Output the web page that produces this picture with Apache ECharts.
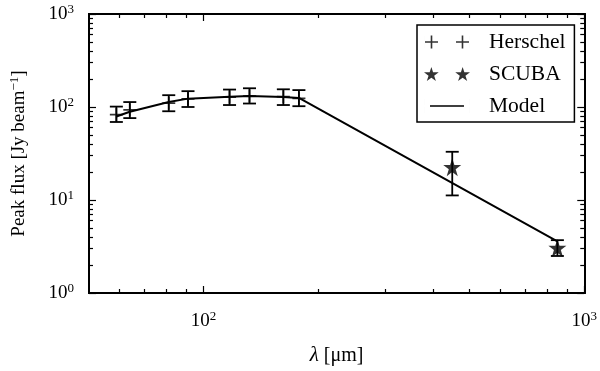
<!DOCTYPE html>
<html>
<head>
<meta charset="utf-8">
<script src="https://cdn.jsdelivr.net/npm/echarts@6/dist/echarts.min.js"></script>
<style>
  html, body { margin: 0; padding: 0; background: #fff; }
  #main { width: 600px; height: 371px; }
</style>
</head>
<body>
<div id="main"></div>
<script>
// Herschel points (wavelength in micron, peak flux in Jy/beam)
var herschelLambda = [59, 64, 81, 91, 117, 132, 162, 178];
var herschelFlux = [83, 93, 110, 122, 128, 131, 129, 124];
var herschelLow = [69, 76, 90, 100, 105, 109, 105, 102];
var herschelHigh = [101, 113, 134, 148, 154, 159, 155, 152];

// SCUBA points
var scubaLambda = [450, 850];
var scubaFlux = [22.5, 3.05];
var scubaLow = [11.2, 2.5];
var scubaHigh = [33, 3.7];

// model curve
var modelLambda = [59, 64, 81, 91, 117, 132, 162, 178, 850];
var modelFlux = [79, 89, 113, 123, 129, 131, 128, 125, 3.6];

// ticks
var xMajor = [100, 1000];
var xMinor = [60, 70, 80, 90, 200, 300, 400, 500, 600, 700, 800, 900];
var yMajor = [1, 10, 100, 1000];
var yMinor = [2, 3, 4, 5, 6, 7, 8, 9, 20, 30, 40, 50, 60, 70, 80, 90, 200, 300, 400, 500, 600, 700, 800, 900];

var FONT = '"Liberation Serif", "DejaVu Serif", serif';
var starPath = 'path://M50,0L61.8,35.5L100,35.5L69.1,57.4L80.9,93L50,71L19.1,93L30.9,57.4L0,35.5L38.2,35.5Z';

function pow10Label(v) {
    var e = Math.round(Math.log(v) / Math.LN10);
    return '{b|10}{s|' + e + '}';
}
var powRich = {
    b: { fontFamily: FONT, fontSize: 19, color: '#000' },
    s: { fontFamily: FONT, fontSize: 13, color: '#000', padding: [0, 0, 9, 0] }
};

function makeAxis(kind, pos, min, max, ticks, len, labels) {
    var ax = {
        type: 'log',
        logBase: 10,
        position: pos,
        min: min,
        max: max,
        axisLine: { show: true, onZero: false, lineStyle: { color: '#000', width: 2 } },
        axisTick: { show: true, inside: true, length: len, customValues: ticks, lineStyle: { color: '#000', width: 1.2 } },
        axisLabel: { show: false },
        splitLine: { show: false },
        minorTick: { show: false },
        minorSplitLine: { show: false }
    };
    if (labels) {
        ax.axisLabel = {
            show: true,
            customValues: labels,
            margin: kind === 'x' ? 17 : 15,
            formatter: pow10Label,
            rich: powRich
        };
    }
    return ax;
}

var xAxes = [
    makeAxis('x', 'bottom', 50, 1000, xMajor, 7, xMajor),
    makeAxis('x', 'bottom', 50, 1000, xMinor, 4),
    makeAxis('x', 'top', 50, 1000, xMajor, 7),
    makeAxis('x', 'top', 50, 1000, xMinor, 4)
];
xAxes[0].name = '{i|λ} [μm]';
xAxes[0].nameLocation = 'middle';
xAxes[0].nameGap = 52;
xAxes[0].nameTextStyle = {
    fontFamily: FONT, fontSize: 20, color: '#000',
    rich: { i: { fontFamily: FONT, fontSize: 21, fontStyle: 'italic', color: '#000' } }
};

var yAxes = [
    makeAxis('y', 'left', 1, 1000, yMajor, 7, yMajor),
    makeAxis('y', 'left', 1, 1000, yMinor, 4),
    makeAxis('y', 'right', 1, 1000, yMajor, 7),
    makeAxis('y', 'right', 1, 1000, yMinor, 4)
];
yAxes[0].name = 'Peak flux [Jy beam{s|−1}]';
yAxes[0].nameLocation = 'middle';
yAxes[0].nameGap = 59;
yAxes[0].nameTextStyle = {
    fontFamily: FONT, fontSize: 19, color: '#000',
    rich: { s: { fontFamily: FONT, fontSize: 13, color: '#000', padding: [0, 0, 9, 0] } }
};

function errorBar(name, xs, lows, highs) {
    return {
        type: 'custom',
        name: name + ' err',
        silent: true,
        data: xs.map(function (x, i) { return [x, lows[i], highs[i]]; }),
        renderItem: function (params, api) {
            var lo = api.coord([api.value(0), api.value(1)]);
            var hi = api.coord([api.value(0), api.value(2)]);
            var w = 6.5;
            var st = { stroke: '#000', lineWidth: 1.8 };
            return {
                type: 'group',
                children: [
                    { type: 'line', shape: { x1: lo[0], y1: lo[1], x2: hi[0], y2: hi[1] }, style: st },
                    { type: 'line', shape: { x1: lo[0] - w, y1: lo[1], x2: lo[0] + w, y2: lo[1] }, style: st },
                    { type: 'line', shape: { x1: hi[0] - w, y1: hi[1], x2: hi[0] + w, y2: hi[1] }, style: st }
                ]
            };
        },
        z: 3
    };
}

var chart = echarts.init(document.getElementById('main'), null, { renderer: 'canvas' });

var option = {
    animation: false,
    backgroundColor: '#fff',
    textStyle: { fontFamily: FONT },
    grid: { left: 89, right: 15, top: 14, bottom: 75, containLabel: false },
    xAxis: xAxes,
    yAxis: yAxes,
    legend: {
        orient: 'vertical',
        left: 417,
        top: 25,
        padding: [6, 9, 5, 7],
        itemGap: 10,
        itemWidth: 46,
        itemHeight: 15,
        backgroundColor: '#fff',
        borderColor: '#000',
        borderWidth: 1.5,
        borderRadius: 0,
        textStyle: { fontFamily: FONT, fontSize: 21.5, color: '#000', padding: [0, 0, 0, 14] },
        data: [
            { name: 'Herschel', icon: 'path://M1,6.7h13v1.6h-13z M6.7,1h1.6v13h-1.6z M32,6.7h13v1.6h-13z M37.7,1h1.6v13h-1.6z M0,0h0.01v15h-0.01z M46,0h0.01v15h-0.01z' },
            { name: 'SCUBA', icon: 'path://M7.5,0.5L9.2,5.8L14.8,5.8L10.3,9.1L12,14.4L7.5,11.1L3,14.4L4.7,9.1L0.2,5.8L5.8,5.8Z M38.5,0.5L40.2,5.8L45.8,5.8L41.3,9.1L43,14.4L38.5,11.1L34,14.4L35.7,9.1L31.2,5.8L36.8,5.8Z' },
            { name: 'Model', icon: 'path://M6,6.7h34v1.6h-34z M0,0h0.01v15h-0.01z M46,0h0.01v15h-0.01z' }
        ]
    },
    series: [
        {
            name: 'Model',
            type: 'line',
            data: modelLambda.map(function (x, i) { return [x, modelFlux[i]]; }),
            showSymbol: false,
            symbol: 'none',
            lineStyle: { color: '#000', width: 2 },
            itemStyle: { color: '#000' },
            z: 2
        },
        errorBar('Herschel', herschelLambda, herschelLow, herschelHigh),
        errorBar('SCUBA', scubaLambda, scubaLow, scubaHigh),
        {
            name: 'Herschel',
            type: 'scatter',
            data: herschelLambda.map(function (x, i) { return [x, herschelFlux[i]]; }),
            symbol: 'path://M0,5.2h12v1.6h-12z M5.2,0h1.6v12h-1.6z',
            symbolSize: 13,
            itemStyle: { color: '#000' },
            z: 4
        },
        {
            name: 'SCUBA',
            type: 'scatter',
            data: scubaLambda.map(function (x, i) { return [x, scubaFlux[i]]; }),
            symbol: starPath,
            symbolSize: 18,
            itemStyle: { color: '#000' },
            z: 4
        }
    ]
};

chart.setOption(option);
</script>
</body>
</html>
